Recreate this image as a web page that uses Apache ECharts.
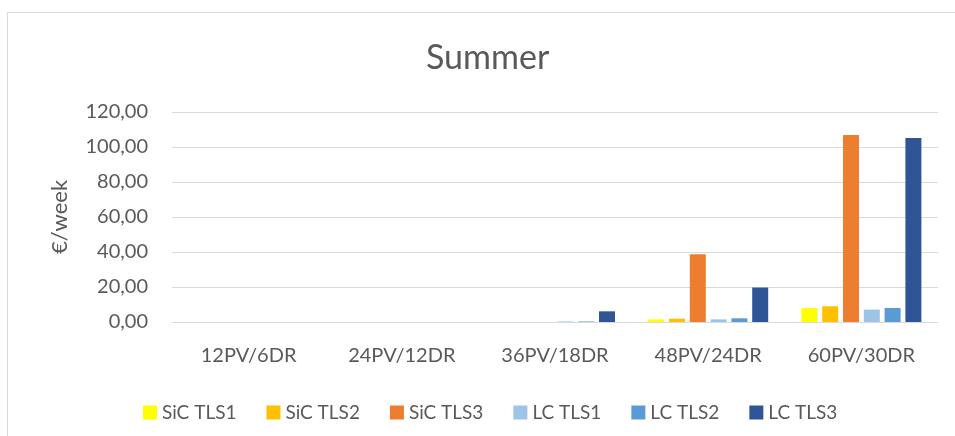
<!DOCTYPE html>
<html>
<head>
<meta charset="utf-8">
<script src="https://cdn.jsdelivr.net/npm/echarts@6/dist/echarts.min.js"></script>
<style>
  html, body { margin: 0; padding: 0; background: #fff; }
  #chart { width: 955px; height: 436px; }
</style>
</head>
<body>
<div id="chart"></div>
<script>
var categories = ['12PV/6DR', '24PV/12DR', '36PV/18DR', '48PV/24DR', '60PV/30DR'];
var seriesNames = ['SiC TLS1', 'SiC TLS2', 'SiC TLS3', 'LC TLS1', 'LC TLS2', 'LC TLS3'];
var sicTls1 = [0, 0, 0, 1.5, 8.0];
var sicTls2 = [0, 0, 0, 1.9, 9.0];
var sicTls3 = [0, 0, 0, 38.7, 106.9];
var lcTls1 = [0, 0, 0.3, 1.5, 7.1];
var lcTls2 = [0, 0, 0.3, 2.1, 8.0];
var lcTls3 = [0, 0, 6.1, 19.7, 105.1];
var colors = ['#ffff00', '#ffc000', '#ed7d31', '#9dc3e6', '#5b9bd5', '#2f5597'];

var font = 'Lato, "Open Sans", sans-serif';
var allData = [sicTls1, sicTls2, sicTls3, lcTls1, lcTls2, lcTls3];

var chart = echarts.init(document.getElementById('chart'));

var series = [];
for (var i = 0; i < seriesNames.length; i++) {
  series.push({
    name: seriesNames[i],
    type: 'bar',
    data: allData[i],
    barWidth: 16,
    barGap: '30%',
    itemStyle: {color: colors[i]}
  });
}

chart.setOption({
  animation: false,
  textStyle: {fontFamily: font},
  title: {
    text: 'Summer',
    left: 421,
    top: 36,
    textStyle: {fontSize: 34, fontWeight: 'normal', color: '#595959', fontFamily: font}
  },
  graphic: [{
    type: 'rect',
    shape: {x: 7.5, y: 12.5, width: 1000, height: 500},
    style: {fill: 'none', stroke: '#d9d9d9', lineWidth: 1},
    silent: true
  }],
  legend: {
    data: seriesNames,
    top: 398,
    left: 138,
    itemWidth: 14,
    itemHeight: 14,
    itemGap: 30,
    icon: 'rect',
    textStyle: {fontSize: 19, color: '#595959', fontFamily: font}
  },
  grid: {
    left: 172,
    right: 17,
    top: 112,
    bottom: 114
  },
  xAxis: {
    type: 'category',
    data: categories,
    axisLine: {lineStyle: {color: '#d9d9d9', width: 1}},
    axisTick: {show: false},
    axisLabel: {fontSize: 20, color: '#595959', margin: 24, fontFamily: font}
  },
  yAxis: {
    type: 'value',
    min: 0,
    max: 120,
    interval: 20,
    name: '€/week',
    nameLocation: 'middle',
    nameGap: 101,
    nameRotate: 90,
    nameTextStyle: {fontSize: 22, color: '#595959', fontFamily: font},
    axisLine: {show: false},
    axisTick: {show: false},
    axisLabel: {
      fontSize: 20,
      color: '#595959',
      margin: 24,
      fontFamily: font,
      formatter: function(v) { return v.toFixed(2).replace('.', ','); }
    },
    splitLine: {lineStyle: {color: '#d9d9d9', width: 1}}
  },
  series: series
});
</script>
</body>
</html>
